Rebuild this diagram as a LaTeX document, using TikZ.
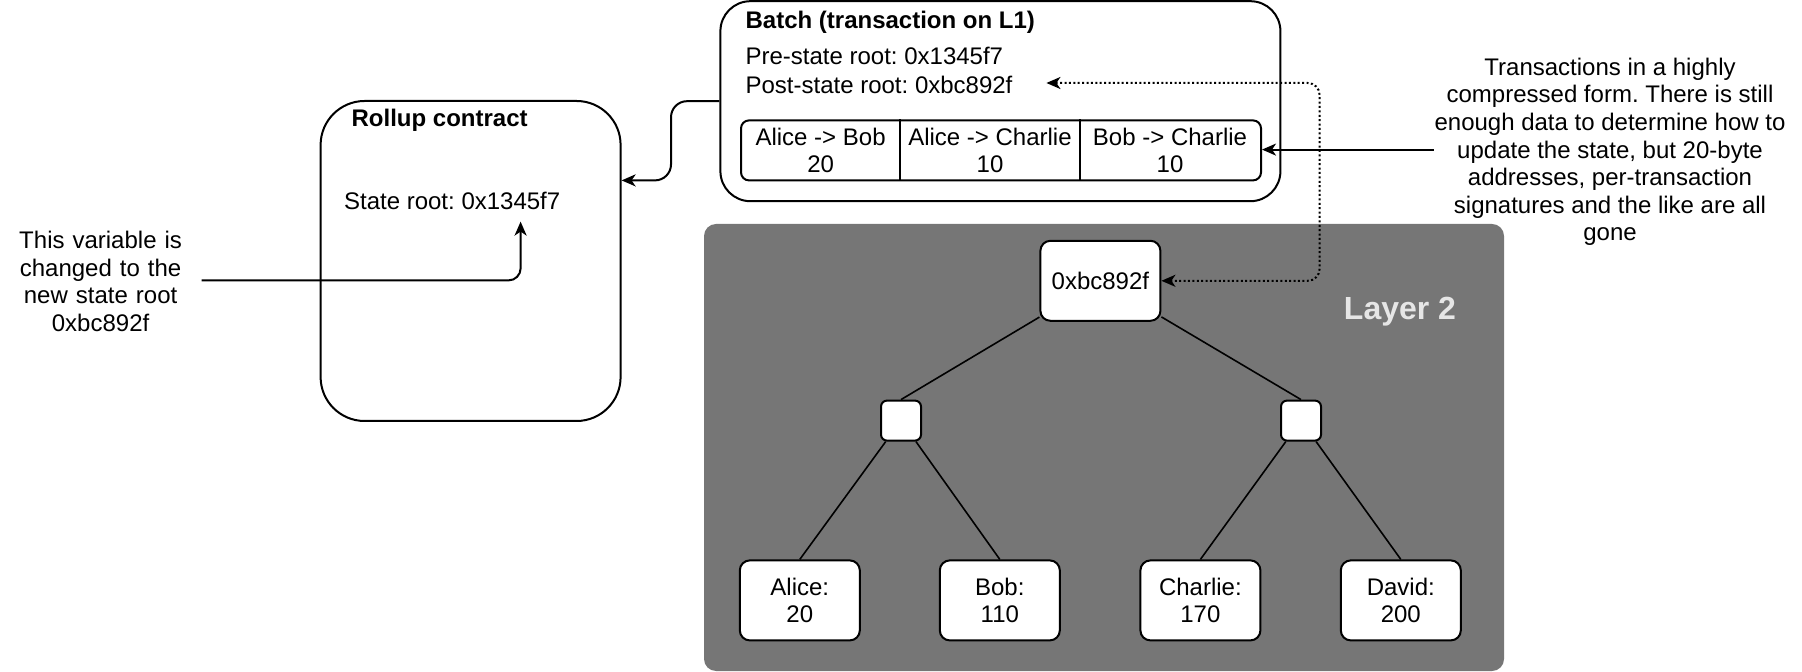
\documentclass[tikz,border=0pt]{standalone}
\usepackage{fontspec}
\setmainfont{Liberation Sans}
\usepackage{xcolor}
\usetikzlibrary{arrows.meta}

\definecolor{layergray}{HTML}{767676}
\definecolor{layertext}{HTML}{E6E6E6}

\tikzset{
  box/.style={draw, line width=1pt, rounded corners=#1, inner sep=0pt},
  box/.default=4pt,
  txt/.style={inner sep=0pt},
  bold/.style={font=\fontsize{12}{13.8}\selectfont\bfseries},
  treebox/.style={draw, fill=white, line width=1pt, rounded corners=5pt,
    minimum width=60pt, minimum height=40pt, align=center, inner sep=0pt},
  hashbox/.style={draw, fill=white, line width=1pt, rounded corners=3pt,
    minimum size=20pt, inner sep=0pt},
  layerbox/.style={fill=layergray, rounded corners=6pt, inner sep=0pt},
  dotline/.style={line width=1pt, dash pattern=on 1pt off 1.2pt}
}

\begin{document}
\frenchspacing
\begin{tikzpicture}[x=1pt, y=-1pt, line width=1pt,
  font=\fontsize{12}{13.8}\selectfont,
  >={Stealth[length=7pt,width=6pt,inset=2pt]}]

\useasboundingbox (0,0) rectangle (901,336);

% layer 2
\node[layerbox, minimum width=400pt, minimum height=223.5pt] (layer) at (552,223.75) {};
\node[txt, font=\fontsize{16}{19}\selectfont\bfseries, text=layertext] (layerlabel) at (700,156) {Layer 2};

% rollup contract on L1
\node[box=22pt, minimum width=150pt, minimum height=160pt] (rollup) at (235.3,130.5) {};
\node[txt, bold] (rolltitle) at (219.8,60.3) {Rollup contract};
\node[txt] (stateroot) at (226.1,100.6) {State root: 0x1345f7};

% batch
\node[box=15pt, minimum width=280pt, minimum height=100pt] (batch) at (500.2,50.6) {};
\node[txt, bold, anchor=west] (batchtitle) at (372.3,11) {Batch (transaction on L1)};
\node[txt, anchor=west] (prestate) at (372.3,28) {Pre-state root: 0x1345f7};
\node[txt, anchor=west] (poststate) at (372.3,42.5) {Post-state root: 0xbc892f};

\node[box=4pt, minimum width=260pt, minimum height=30pt] (txtable) at (500.5,75.2) {};
\draw ([xshift=-50.5pt]txtable.north) -- ([xshift=-50.5pt]txtable.south);
\draw ([xshift=39.5pt]txtable.north) -- ([xshift=39.5pt]txtable.south);
\node[txt, align=center] (tx1) at (410.3,75.3) {Alice -> Bob\\20};
\node[txt, align=center] (tx2) at (495,75.3) {Alice -> Charlie\\10};
\node[txt, align=center] (tx3) at (585,75.3) {Bob -> Charlie\\10};

% state tree
\node[treebox] (root) at (550.2,140.4) {0xbc892f};
\node[hashbox] (hl) at (450.5,210.3) {};
\node[hashbox] (hr) at (650.5,210.3) {};
\node[treebox] (alice) at (399.9,300.2) {Alice:\\20};
\node[treebox] (bob) at (499.9,300.2) {Bob:\\110};
\node[treebox] (charlie) at (600.2,300.2) {Charlie:\\170};
\node[treebox] (david) at (700.4,300.2) {David:\\200};

\foreach \a/\b in {root/hl, root/hr, hl/alice, hl/bob, hr/charlie, hr/david}
  \draw[line width=0.8pt] (\a) -- (\b.north);

% notes
\node[txt, align=center] (txnote) at (805,76)
  {Transactions in a highly\\compressed form. There is still\\enough data to determine how to\\update the state, but 20-byte\\addresses, per-transaction\\signatures and the like are all\\gone};
\node[txt, text width=100pt, align=center] (varnote) at (50.3,140.8)
  {This variable is\\changed to the\\new state root\\0xbc892f};

% connectors
\draw[->, rounded corners=8pt] (batch.west) -- (335.5,50.6) -- (335.5,90.2) -- ([yshift=40.3pt]rollup.east);
\draw[->] (txnote.west |- 0,74.8) -- ([yshift=0.4pt]txtable.east);
\draw[dotline, <->, rounded corners=6pt] ([xshift=16.5pt,yshift=1pt]poststate.east) -- (659.8,41.5) -- (659.8,140.4) -- (root.east);
\coordinate (rootin) at (260.3,110.8);
\draw[->, rounded corners=6pt] ([yshift=0.6pt]varnote.east) -| (rootin);

\end{tikzpicture}
\end{document}
